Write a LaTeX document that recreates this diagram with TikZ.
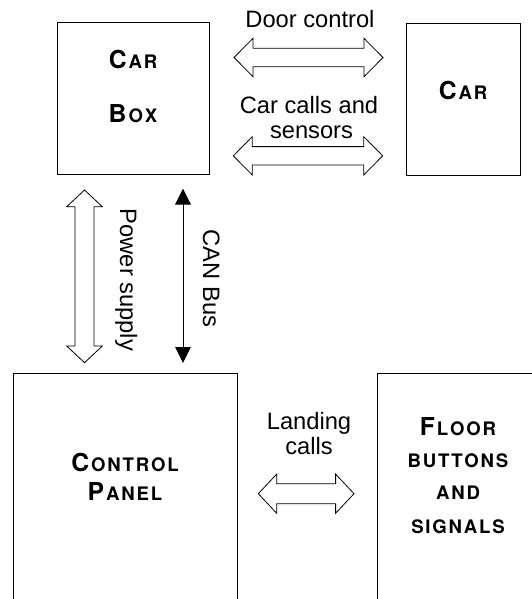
\documentclass[tikz,border=0pt]{standalone}
\usepackage{fontspec}
\setmainfont{Liberation Sans}
\newfontfamily\boxfont{TeX Gyre Heros}
\usetikzlibrary{arrows.meta,calc}
\makeatletter
\newcommand\spaced[1]{\@tfor\ch:=#1\do{\ch\kern1.8pt}\unkern}
\makeatother
\newcommand\scword[2]{{\fontsize{24.7}{26}\selectfont #1}\kern2pt{\fontsize{18.6}{20}\selectfont\spaced{#2}}}
\newcommand\scsmall[1]{{\fontsize{18.6}{20}\selectfont\spaced{#1}}}
% horizontal hollow double arrow: #1 left tip, #2 right tip, #3 head length, #4 half head, #5 half shaft
\newcommand\blockH[5]{%
  \draw[blockarrow] (#1) -- ($(#1)+(#3,-#4)$) -- ($(#1)+(#3,-#5)$) -- ($(#2)+(-#3,-#5)$)
    -- ($(#2)+(-#3,-#4)$) -- (#2) -- ($(#2)+(-#3,#4)$) -- ($(#2)+(-#3,#5)$)
    -- ($(#1)+(#3,#5)$) -- ($(#1)+(#3,#4)$) -- cycle;}
% vertical hollow double arrow: #1 top tip, #2 bottom tip
\newcommand\blockV[5]{%
  \draw[blockarrow] (#1) -- ($(#1)+(-#4,#3)$) -- ($(#1)+(-#5,#3)$) -- ($(#2)+(-#5,-#3)$)
    -- ($(#2)+(-#4,-#3)$) -- (#2) -- ($(#2)+(#4,-#3)$) -- ($(#2)+(#5,-#3)$)
    -- ($(#1)+(#5,#3)$) -- ($(#1)+(#4,#3)$) -- cycle;}
\begin{document}
\begin{tikzpicture}[x=1pt,y=-1pt,
  box/.style={draw,line width=1pt,rectangle,inner sep=0pt},
  lbl/.style={font=\fontsize{23.7}{25}\selectfont,anchor=base,inner sep=0pt},
  boxlbl/.style={font=\boxfont\bfseries,anchor=base,inner sep=0pt},
  blockarrow/.style={draw,line width=0.8pt,fill=white,line join=miter},
  bus/.style={line width=1pt,{Triangle[width=15.5pt,length=16pt]}-{Triangle[width=15.5pt,length=16pt]}}]
\useasboundingbox (0,0) rectangle (532,599);
\clip (0,0) rectangle (532,599);

% boxes
\node[box,minimum width=152pt,minimum height=151pt] (carbox) at (133,98.5) {};
\node[box,minimum width=114pt,minimum height=151pt] (car) at (463,99.5) {};
\node[box,minimum width=224pt,minimum height=247pt] (panel) at (125,496.5) {};
\node[box,minimum width=168pt,minimum height=247pt] (floor) at (461,496.5) {};

% box labels
\node[boxlbl] (carboxA) at (133,69) {\scword{C}{AR}};
\node[boxlbl] (carboxB) at (133,123) {\scword{B}{OX}};
\node[boxlbl] (carA) at (463,99.3) {\scword{C}{AR}};
\node[boxlbl] (panelA) at (125,471) {\scword{C}{ONTROL}};
\node[boxlbl] (panelB) at (125,500) {\scword{P}{ANEL}};
\node[boxlbl] (floorA) at (458,435) {\scword{F}{LOOR}};
\node[boxlbl] (floorB) at (458,467) {\scsmall{BUTTONS}};
\node[boxlbl] (floorC) at (458,499) {\scsmall{AND}};
\node[boxlbl] (floorD) at (458,533) {\scsmall{SIGNALS}};

% connector labels
\node[lbl] (doorT) at (310,28) {Door control};
\node[lbl] (callsA) at (309,113.3) {Car calls and};
\node[lbl] (callsB) at (311.5,138) {sensors};
\node[lbl] (landA) at (309,429) {Landing};
\node[lbl] (landB) at (309,454) {calls};
\node[lbl,rotate=-90] (powerT) at (120,280) {Power supply};
\node[lbl,rotate=-90] (canT) at (203,278.5) {CAN Bus};

% connector end points
\coordinate (doorL) at (234,57.5);
\coordinate (doorR) at (383,57.5);
\coordinate (callL) at (233.3,155.8);
\coordinate (callR) at (382.7,155.8);
\coordinate (landL) at (258.3,493.7);
\coordinate (landR) at (354,493.7);
\coordinate (powT) at (84.5,190);
\coordinate (powB) at (84.5,362.7);
\coordinate (busT) at (183,188.5);
\coordinate (busB) at (183,363);

% connectors
\blockH{doorL}{doorR}{19}{19.2}{9.3}
\blockH{callL}{callR}{19}{19.2}{9.2}
\blockH{landL}{landR}{18.4}{19.6}{10}
\blockV{powT}{powB}{16.7}{17.8}{9.5}
\draw[bus] (busT) -- (busB);
\end{tikzpicture}
\end{document}
